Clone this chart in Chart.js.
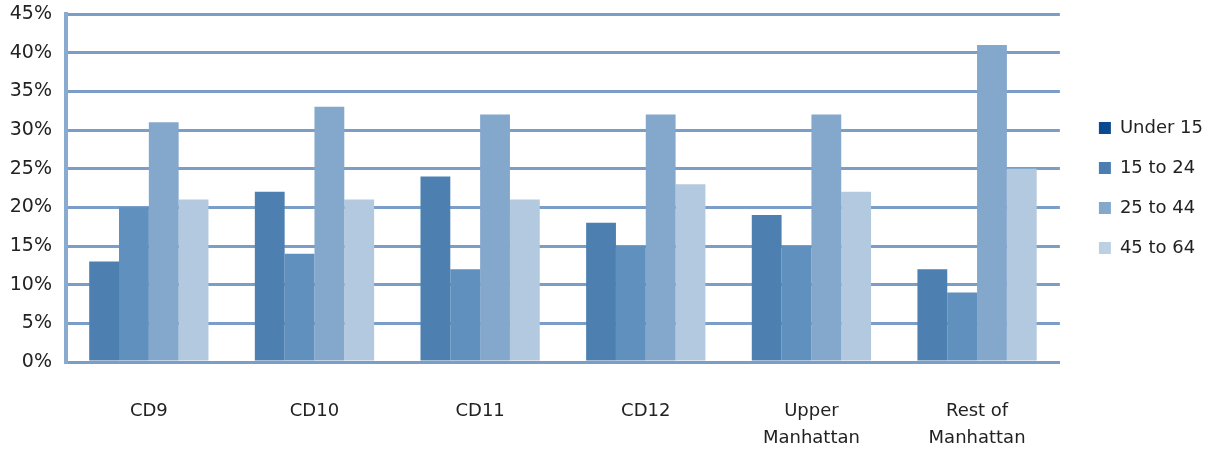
<!DOCTYPE html>
<html>
<head>
<meta charset="utf-8">
<script src="https://cdn.jsdelivr.net/npm/chart.js@4"></script>
<style>
html,body{margin:0;padding:0;background:#fff;}
#wrap{width:1220px;height:451px;position:relative;}
</style>
</head>
<body>
<div id="wrap"><canvas id="c" width="1220" height="451"></canvas></div>
<script>
const categories = ["CD9", "CD10", "CD11", "CD12", ["Upper", "Manhattan"], ["Rest of", "Manhattan"]];
const seriesNames = ["Under 15", "15 to 24", "25 to 44", "45 to 64"];
const under15 = [13, 22, 24, 18, 19, 12];
const age15to24 = [20, 14, 12, 15, 15, 9];
const age25to44 = [31, 33, 32, 32, 32, 41];
const age45to64 = [21, 21, 21, 23, 22, 25];
const barColors = ["#4d80b1", "#6090bd", "#84a7cc", "#b3c9df"];
const legendColors = ["#0b4a91", "#4b7db1", "#84a7cc", "#bcd0e4"];
const yTicks = [0, 5, 10, 15, 20, 25, 30, 35, 40, 45];

const seriesValues = [under15, age15to24, age25to44, age45to64];
const FONT = "'DejaVu Sans', sans-serif";

new Chart(document.getElementById('c'), {
  type: 'bar',
  data: {
    labels: categories,
    datasets: seriesNames.map((n, i) => ({
      label: n,
      data: seriesValues[i],
      backgroundColor: barColors[i],
      borderWidth: 0,
      categoryPercentage: 0.72,
      barPercentage: 1.0
    }))
  },
  options: {
    responsive: false,
    animation: false,
    devicePixelRatio: 1,
    layout: { padding: { left: 0, top: 14, right: 7, bottom: 0 } },
    plugins: {
      tooltip: { enabled: false },
      legend: {
        position: 'right',
        fullSize: false,
        labels: {
          font: { family: FONT, size: 18 },
          color: '#222',
          boxWidth: 12,
          boxHeight: 12,
          padding: 22,
          generateLabels: (chart) => seriesNames.map((n, i) => ({
            text: n,
            fillStyle: legendColors[i],
            strokeStyle: legendColors[i],
            lineWidth: 0,
            hidden: false,
            datasetIndex: i,
            fontColor: '#222'
          }))
        }
      }
    },
    scales: {
      x: {
        grid: { display: false, drawTicks: false },
        border: { display: true, color: '#7a9ec8', width: 3 },
        ticks: {
          font: { family: FONT, size: 18, lineHeight: 1.5 },
          color: '#222',
          padding: 36,
          maxRotation: 0,
          autoSkip: false
        },
        afterFit: (s) => { s.height = 89; }
      },
      y: {
        min: 0,
        max: 45,
        afterBuildTicks: (s) => { s.ticks = yTicks.map(v => ({ value: v })); },
        grid: { color: '#7a9ec8', lineWidth: 3, drawTicks: false },
        border: { display: true, color: '#8aabd0', width: 4 },
        ticks: {
          font: { family: FONT, size: 19 },
          color: '#222',
          padding: 14,
          callback: (v) => v + '%'
        },
        afterFit: (s) => { s.width = 66; s.paddingTop = 0; s.paddingBottom = 0; }
      },
      gap: {
        type: 'linear',
        position: 'right',
        display: true,
        grid: { display: false, drawTicks: false },
        border: { display: false },
        ticks: { display: false },
        afterFit: (s) => { s.width = 17; s.paddingTop = 0; s.paddingBottom = 0; }
      }
    }
  }
});
</script>
</body>
</html>
